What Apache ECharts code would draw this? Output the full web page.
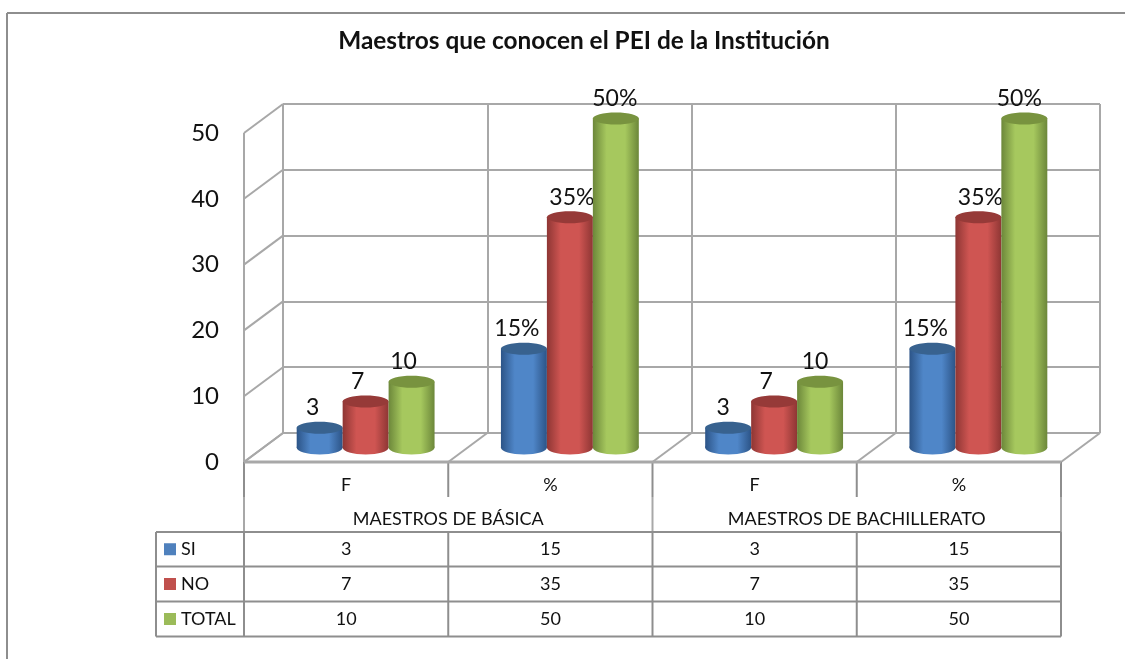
<!DOCTYPE html>
<html><head><meta charset="utf-8">
<style>html,body{margin:0;padding:0;background:#fff}#c{width:1125px;height:659px}</style>
<script src="https://cdn.jsdelivr.net/npm/echarts@6/dist/echarts.min.js"></script>
</head><body><div id="c"></div>
<script>
const title = 'Maestros que conocen el PEI de la Institución';
const categories = ['F', '%', 'F', '%'];
const groups = ['MAESTROS DE BÁSICA', 'MAESTROS DE BACHILLERATO'];
const seriesNames = ['SI', 'NO', 'TOTAL'];
const si = [3, 15, 3, 15];
const no = [7, 35, 7, 35];
const total = [10, 50, 10, 50];
const labelsSi = ['3', '15%', '3', '15%'];
const labelsNo = ['7', '35%', '7', '35%'];
const labelsTotal = ['10', '50%', '10', '50%'];
const yTicks = [0, 10, 20, 30, 40, 50];

const FONT = 'Lato, "Open Sans", sans-serif';
const GRID = '#a8a8a8', TABLE = '#8e8e8e', TEXT = '#111';
const DX = 39, DY = -29;
const F = {left: 244, top: 133, width: 817, height: 329};
const colors = [
  {edge: '#2c5487', mid: '#4f86c8', top: '#38628f', sw: '#4f81bd'},
  {edge: '#8e3634', mid: '#cf5552', top: '#963a38', sw: '#c0504d'},
  {edge: '#6c873a', mid: '#a6c85e', top: '#78933f', sw: '#9bbb59'}
];

function cylinder(si_, labels, labelDx) {
  return function (params, api) {
    const cat = api.value(0), val = api.value(1);
    const band = api.size([1, 0])[0];
    const w = band * 0.225;
    const base = api.coord([cat, 0]), top = api.coord([cat, val]);
    const cx = base[0] + (si_ - 1) * w;
    const rx = w / 2, ryT = 6, ryB = 7;
    const c = colors[si_];
    const grad = {type: 'linear', x: 0, y: 0, x2: 1, y2: 0, colorStops: [
      {offset: 0, color: c.edge}, {offset: 0.3, color: c.mid},
      {offset: 0.7, color: c.mid}, {offset: 1, color: c.edge}]};
    return {type: 'group', children: [
      {type: 'ellipse', shape: {cx: cx, cy: base[1], rx: rx, ry: ryB}, style: {fill: grad}},
      {type: 'rect', shape: {x: cx - rx, y: top[1], width: w, height: base[1] - top[1]}, style: {fill: grad}},
      {type: 'ellipse', shape: {cx: cx, cy: top[1], rx: rx, ry: ryT}, style: {fill: c.top}},
      {type: 'text', style: {text: labels[cat], x: cx + labelDx[cat], y: top[1] - 20, align: 'center', verticalAlign: 'middle',
        font: '23px ' + FONT, fill: TEXT}}
    ]};
  };
}

function wallLines(params, api) {
  const cs = params.coordSys;
  const p = api.coord([0, api.value(0)]);
  return {type: 'line', shape: {x1: cs.x, y1: p[1], x2: cs.x + DX, y2: p[1] + DY},
    style: {stroke: GRID, lineWidth: 2}};
}
function floorLines(params, api) {
  const cs = params.coordSys;
  const x = cs.x + api.value(0) * cs.width / categories.length;
  const y = cs.y + cs.height;
  return {type: 'line', shape: {x1: x, y1: y, x2: x + DX, y2: y + DY},
    style: {stroke: GRID, lineWidth: 2}};
}

const hl = (x1, y1, x2, y2, color, lw) => ({type: 'line', silent: true, z: 5,
  shape: {x1, y1, x2, y2}, style: {stroke: color || TABLE, lineWidth: lw || 2}});
const tx = (text, x, y, align) => ({type: 'text', z: 6, silent: true,
  style: {text, x, y, align: align || 'center', verticalAlign: 'middle', font: '18px ' + FONT, fill: TEXT}});

const bw = F.width / categories.length, L = F.left, R = L + F.width, B = F.top + F.height;
const rowY = [532, 566.5, 601.5, 636.5];
const rows = [si, no, total];
const els = [];
els.push(hl(7, 13, 1125, 13, '#8e8e8e', 2), hl(7, 13, 7, 659, '#8e8e8e', 2));
els.push(hl(L, F.top, L, B, GRID, 2));
[L, L + 2 * bw, R].forEach(x => {
  els.push(hl(x, B, x, B + 35), hl(x, B + 35, x, rowY[0], GRID, 2), hl(x, rowY[0], x, rowY[3]));
});
els.push(hl(L + bw, B, L + bw, B + 35), hl(L + 3 * bw, B, L + 3 * bw, B + 35));
els.push(hl(L + bw, rowY[0], L + bw, rowY[3]), hl(L + 3 * bw, rowY[0], L + 3 * bw, rowY[3]));
els.push(hl(L, B, R, B, GRID, 3));
rowY.forEach(y => els.push(hl(156, y, R, y)));
els.push(hl(156, rowY[0], 156, rowY[3]));
groups.forEach((g, i) => els.push(tx(g, L + bw * (2 * i + 1), 519)));
seriesNames.forEach((n, r) => {
  const yc = (rowY[r] + rowY[r + 1]) / 2;
  els.push({type: 'rect', z: 6, silent: true, shape: {x: 164, y: yc - 6, width: 12, height: 12}, style: {fill: colors[r].sw}});
  els.push(tx(n, 181, yc, 'left'));
  rows[r].forEach((v, c) => els.push(tx(String(v), L + bw * (c + 0.5), yc)));
});

const chart = echarts.init(document.getElementById('c'), null, {renderer: 'canvas'});
const plainX = (gridIndex) => ({type: 'category', gridIndex, data: categories, boundaryGap: true,
  axisLabel: {show: false}, axisTick: {show: false}, axisLine: {show: false}, splitLine: {show: false}});
const plainY = (gridIndex) => ({type: 'value', gridIndex, min: 0, max: 50, interval: 10,
  axisLabel: {show: false}, axisTick: {show: false}, axisLine: {show: false}, splitLine: {show: false}});

const dataSets = [si, no, total];
const labelSets = [labelsSi, labelsNo, labelsTotal];
const labelOffsets = [[-7, -7, -5, -7], [-8, 2, -8, 2], [-8, -1, -5, -5]];

chart.setOption({
  animation: false,
  backgroundColor: '#fff',
  title: {text: title, left: 579, top: 24, textAlign: 'center',
    textStyle: {fontFamily: FONT, fontWeight: 'bold', fontSize: 24.4, color: '#111'}},
  grid: [
    {left: F.left, top: F.top, width: F.width, height: F.height},
    {left: F.left + DX, top: F.top + DY, width: F.width, height: F.height},
    {left: F.left + DX / 2, top: F.top + DY / 2, width: F.width, height: F.height}
  ],
  xAxis: [
    {type: 'category', gridIndex: 0, data: categories,
      axisLabel: {show: true, fontFamily: FONT, fontSize: 18, color: TEXT, margin: 14},
      axisTick: {show: false}, axisLine: {show: false}, splitLine: {show: false}},
    Object.assign(plainX(1), {splitLine: {show: true, interval: 0, lineStyle: {color: GRID, width: 2}}}),
    plainX(2)
  ],
  yAxis: [
    {type: 'value', gridIndex: 0, min: 0, max: 50, interval: 10,
      axisLabel: {show: true, fontFamily: FONT, fontSize: 24, color: TEXT, margin: 25, padding: [5, 0, 0, 0]},
      axisTick: {show: false}, axisLine: {show: false}, splitLine: {show: false}},
    Object.assign(plainY(1), {splitLine: {show: true, lineStyle: {color: GRID, width: 2}}}),
    plainY(2)
  ],
  series: [
    {type: 'custom', name: 'wall', xAxisIndex: 0, yAxisIndex: 0, silent: true, z: 1,
      encode: {y: 0}, data: yTicks.map(v => [v]), renderItem: wallLines},
    {type: 'custom', name: 'floor', xAxisIndex: 0, yAxisIndex: 0, silent: true, z: 1,
      encode: {x: 0}, data: [0, 1, 2, 3, 4].map(v => [v]), renderItem: floorLines}
  ].concat(seriesNames.map((n, i) => ({
    type: 'custom', name: n, xAxisIndex: 2, yAxisIndex: 2, z: 3 + i,
    encode: {x: 0, y: 1}, data: dataSets[i].map((v, c) => [c, v]),
    renderItem: cylinder(i, labelSets[i], labelOffsets[i]), clip: false
  }))),
  graphic: {elements: els}
});
</script></body></html>
